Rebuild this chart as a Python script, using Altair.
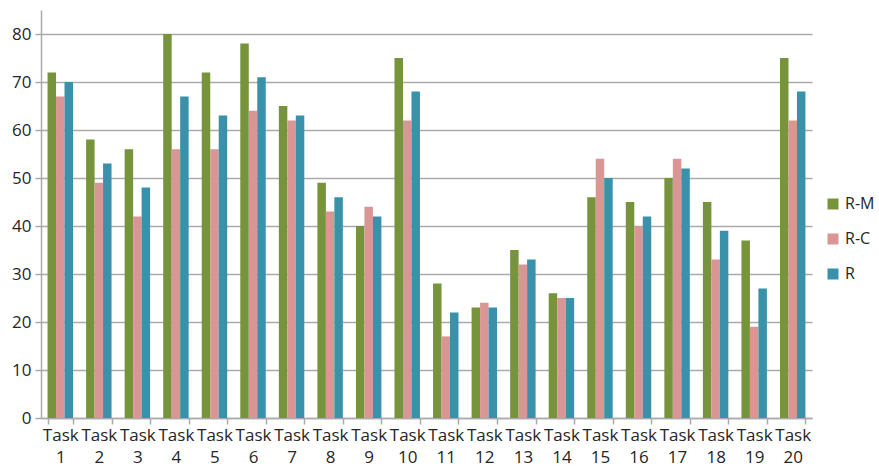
import altair as alt
import pandas as pd

tasks = ["Task 1", "Task 2", "Task 3", "Task 4", "Task 5", "Task 6", "Task 7",
         "Task 8", "Task 9", "Task 10", "Task 11", "Task 12", "Task 13", "Task 14",
         "Task 15", "Task 16", "Task 17", "Task 18", "Task 19", "Task 20"]
series = ["R-M", "R-C", "R"]
rm = [72, 58, 56, 80, 72, 78, 65, 49, 40, 75, 28, 23, 35, 26, 46, 45, 50, 45, 37, 75]
rc = [67, 49, 42, 56, 56, 64, 62, 43, 44, 62, 17, 24, 32, 25, 54, 40, 54, 33, 19, 62]
r = [70, 53, 48, 67, 63, 71, 63, 46, 42, 68, 22, 23, 33, 25, 50, 42, 52, 39, 27, 68]
colors = ["#77933C", "#D99694", "#3A91AA"]
y_ticks = [0, 10, 20, 30, 40, 50, 60, 70, 80]

rows = []
for name, vals in zip(series, [rm, rc, r]):
    for t, v in zip(tasks, vals):
        rows.append({"task": t, "series": name, "value": v})
df = pd.DataFrame(rows)

FONT = "Open Sans"
TXT = "#262626"
GRID = "#ABABAB"

chart = alt.Chart(df).mark_bar().encode(
    x=alt.X("task:N", sort=tasks,
            scale=alt.Scale(paddingInner=0.34, paddingOuter=0.17),
            axis=alt.Axis(title=None, labelAngle=0,
                          labelExpr="split(datum.label, ' ')",
                          tickBand="extent", tickSize=6, tickColor=GRID,
                          domainColor=GRID, domainWidth=1.5, tickWidth=1.5,
                          labelFont=FONT, labelFontSize=17, labelColor=TXT,
                          labelPadding=3, labelLineHeight=22, labelBaseline="top")),
    xOffset=alt.XOffset("series:N", sort=series,
                        scale=alt.Scale(paddingInner=0, paddingOuter=0)),
    y=alt.Y("value:Q", scale=alt.Scale(domain=[0, 85], nice=False),
            axis=alt.Axis(title=None, values=y_ticks, grid=True, gridColor=GRID,
                          gridWidth=1.5, tickSize=6, tickColor=GRID, tickWidth=1.5,
                          domainColor=GRID, domainWidth=1.5,
                          labelFont=FONT, labelFontSize=17, labelColor=TXT,
                          labelPadding=4)),
    color=alt.Color("series:N", sort=series,
                    scale=alt.Scale(domain=series, range=colors),
                    legend=alt.Legend(title=None, orient="none", legendX=784, legendY=186,
                                      symbolType="square", symbolSize=121,
                                      symbolStrokeWidth=0,
                                      labelFont=FONT, labelFontSize=16, labelColor=TXT,
                                      rowPadding=19, labelOffset=4)),
).properties(
    width=771, height=408,
    background="white",
    autosize=alt.AutoSizeParams(type="none"),
    padding={"left": 41, "top": 10, "right": 67, "bottom": 50},
).configure_view(stroke=None)

chart.save("out.html", embed_options={"renderer": "svg", "actions": False})
